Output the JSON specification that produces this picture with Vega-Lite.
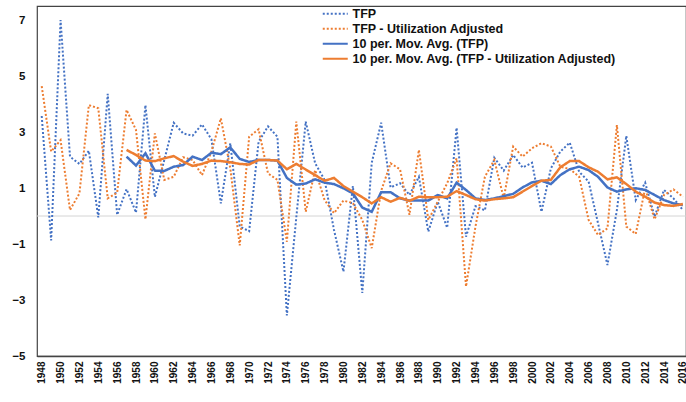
{
  "$schema": "https://vega.github.io/schema/vega-lite/v6.json",
  "width": 649,
  "height": 350,
  "autosize": {"type": "none"},
  "padding": {"left": 37, "top": 6, "right": 0, "bottom": 46},
  "background": "white",
  "config": {
    "view": {"stroke": "#444444", "strokeWidth": 1.2},
    "font": "Liberation Sans",
    "axisX": {
      "labelAngle": -90,
      "labelFontSize": 10,
      "labelFontWeight": "bold",
      "labelColor": "#111111",
      "labelPadding": 5,
      "labelOverlap": false,
      "labelBound": false,
      "ticks": false,
      "grid": false,
      "domainColor": "#444444",
      "domainWidth": 1.5
    },
    "axisY": {
      "labelFontSize": 11.5,
      "labelFontWeight": "bold",
      "labelColor": "#111111",
      "labelPadding": 12,
      "ticks": false,
      "grid": false,
      "domain": false
    },
    "legend": {
      "orient": "none",
      "legendX": 292,
      "legendY": 1.5,
      "padding": 0,
      "direction": "vertical",
      "symbolType": "M-2.5,0H2.5",
      "symbolSize": 100,
      "symbolStrokeWidth": 2,
      "labelFontSize": 12.5,
      "labelFontWeight": "bold",
      "labelColor": "#111111",
      "labelLimit": 400,
      "labelOffset": 11,
      "rowPadding": 2
    }
  },
  "data": {
    "values": [
      {"year": 1948, "tfp": 3.57, "ua": 4.64},
      {"year": 1949, "tfp": -0.87, "ua": 2.3},
      {"year": 1950, "tfp": 7.0, "ua": 2.71},
      {"year": 1951, "tfp": 2.12, "ua": 0.21},
      {"year": 1952, "tfp": 1.86, "ua": 0.81},
      {"year": 1953, "tfp": 2.33, "ua": 3.96},
      {"year": 1954, "tfp": -0.05, "ua": 3.85},
      {"year": 1955, "tfp": 4.36, "ua": 0.63},
      {"year": 1956, "tfp": 0.04, "ua": 0.83},
      {"year": 1957, "tfp": 0.96, "ua": 3.79, "mt": 2.12, "mu": 2.36},
      {"year": 1958, "tfp": 0.12, "ua": 3.07, "mt": 1.8, "mu": 2.18},
      {"year": 1959, "tfp": 3.96, "ua": -0.12, "mt": 2.24, "mu": 1.98},
      {"year": 1960, "tfp": 0.68, "ua": 2.95, "mt": 1.62, "mu": 1.96},
      {"year": 1961, "tfp": 2.0, "ua": 1.29, "mt": 1.61, "mu": 2.06},
      {"year": 1962, "tfp": 3.33, "ua": 1.4, "mt": 1.76, "mu": 2.14},
      {"year": 1963, "tfp": 2.95, "ua": 2.1, "mt": 1.82, "mu": 1.94},
      {"year": 1964, "tfp": 2.87, "ua": 2.0, "mt": 2.12, "mu": 1.79},
      {"year": 1965, "tfp": 3.27, "ua": 1.46, "mt": 2.0, "mu": 1.86},
      {"year": 1966, "tfp": 2.74, "ua": 2.3, "mt": 2.26, "mu": 1.98},
      {"year": 1967, "tfp": 0.45, "ua": 3.49, "mt": 2.21, "mu": 1.96},
      {"year": 1968, "tfp": 2.6, "ua": 1.7, "mt": 2.45, "mu": 1.92},
      {"year": 1969, "tfp": -0.38, "ua": -1.05, "mt": 2.04, "mu": 1.86},
      {"year": 1970, "tfp": -0.54, "ua": 2.83, "mt": 1.93, "mu": 1.84},
      {"year": 1971, "tfp": 2.65, "ua": 3.1, "mt": 2.0, "mu": 2.0},
      {"year": 1972, "tfp": 3.2, "ua": 1.52, "mt": 2.0, "mu": 2.0},
      {"year": 1973, "tfp": 2.83, "ua": 1.29, "mt": 1.98, "mu": 1.98},
      {"year": 1974, "tfp": -3.55, "ua": -0.92, "mt": 1.36, "mu": 1.67},
      {"year": 1975, "tfp": -0.05, "ua": 3.37, "mt": 1.12, "mu": 1.86},
      {"year": 1976, "tfp": 3.37, "ua": 0.15, "mt": 1.16, "mu": 1.66},
      {"year": 1977, "tfp": 1.88, "ua": 1.64, "mt": 1.31, "mu": 1.46},
      {"year": 1978, "tfp": 1.29, "ua": 0.57, "mt": 1.19, "mu": 1.26},
      {"year": 1979, "tfp": -0.5, "ua": 0.1, "mt": 1.14, "mu": 1.36},
      {"year": 1980, "tfp": -1.99, "ua": 0.55, "mt": 0.99, "mu": 1.07},
      {"year": 1981, "tfp": 1.07, "ua": 0.46, "mt": 0.81, "mu": 0.87},
      {"year": 1982, "tfp": -2.75, "ua": -0.14, "mt": 0.3, "mu": 0.67},
      {"year": 1983, "tfp": 1.9, "ua": -1.15, "mt": 0.15, "mu": 0.45},
      {"year": 1984, "tfp": 3.33, "ua": 0.9, "mt": 0.85, "mu": 0.67},
      {"year": 1985, "tfp": 1.02, "ua": 1.88, "mt": 0.85, "mu": 0.51},
      {"year": 1986, "tfp": 1.17, "ua": 1.67, "mt": 0.63, "mu": 0.65},
      {"year": 1987, "tfp": 0.75, "ua": 0.04, "mt": 0.55, "mu": 0.54},
      {"year": 1988, "tfp": 1.4, "ua": 2.36, "mt": 0.55, "mu": 0.69},
      {"year": 1989, "tfp": -0.56, "ua": -0.14, "mt": 0.55, "mu": 0.67},
      {"year": 1990, "tfp": 0.51, "ua": 0.51, "mt": 0.75, "mu": 0.67},
      {"year": 1991, "tfp": -0.42, "ua": 1.17, "mt": 0.63, "mu": 0.69},
      {"year": 1992, "tfp": 3.15, "ua": 2.06, "mt": 1.19, "mu": 0.89},
      {"year": 1993, "tfp": -0.74, "ua": -2.52, "mt": 0.93, "mu": 0.75},
      {"year": 1994, "tfp": 0.35, "ua": -0.38, "mt": 0.63, "mu": 0.6},
      {"year": 1995, "tfp": 0.2, "ua": 1.4, "mt": 0.57, "mu": 0.55},
      {"year": 1996, "tfp": 2.08, "ua": 2.0, "mt": 0.63, "mu": 0.6},
      {"year": 1997, "tfp": 1.62, "ua": 0.63, "mt": 0.71, "mu": 0.63},
      {"year": 1998, "tfp": 2.18, "ua": 2.48, "mt": 0.79, "mu": 0.67},
      {"year": 1999, "tfp": 1.73, "ua": 2.12, "mt": 1.02, "mu": 0.87},
      {"year": 2000, "tfp": 1.9, "ua": 2.42, "mt": 1.2, "mu": 1.07},
      {"year": 2001, "tfp": 0.15, "ua": 2.6, "mt": 1.26, "mu": 1.26},
      {"year": 2002, "tfp": 1.7, "ua": 2.48, "mt": 1.14, "mu": 1.29},
      {"year": 2003, "tfp": 2.3, "ua": 1.76, "mt": 1.46, "mu": 1.74},
      {"year": 2004, "tfp": 2.62, "ua": 1.68, "mt": 1.67, "mu": 1.96},
      {"year": 2005, "tfp": 1.58, "ua": 1.4, "mt": 1.76, "mu": 1.96},
      {"year": 2006, "tfp": 1.23, "ua": -0.14, "mt": 1.64, "mu": 1.74},
      {"year": 2007, "tfp": -0.26, "ua": -0.68, "mt": 1.4, "mu": 1.58},
      {"year": 2008, "tfp": -1.75, "ua": -0.44, "mt": 1.02, "mu": 1.31},
      {"year": 2009, "tfp": 0.21, "ua": 3.25, "mt": 0.87, "mu": 1.38},
      {"year": 2010, "tfp": 2.86, "ua": -0.38, "mt": 0.95, "mu": 1.14},
      {"year": 2011, "tfp": 0.57, "ua": -0.64, "mt": 0.99, "mu": 0.87},
      {"year": 2012, "tfp": 1.19, "ua": 0.99, "mt": 0.93, "mu": 0.69},
      {"year": 2013, "tfp": -0.02, "ua": -0.12, "mt": 0.75, "mu": 0.48},
      {"year": 2014, "tfp": 0.93, "ua": 0.75, "mt": 0.57, "mu": 0.39},
      {"year": 2015, "tfp": 0.63, "ua": 0.95, "mt": 0.45, "mu": 0.36},
      {"year": 2016, "tfp": 0.21, "ua": 0.69, "mt": 0.39, "mu": 0.43}
    ]
  },
  "transform": [{"fold": ["tfp", "ua", "mt", "mu"], "as": ["series", "value"]}],
  "encoding": {
    "x": {
      "field": "year", "type": "quantitative",
      "scale": {"domain": [1947.5, 2016.33], "nice": false, "zero": false},
      "axis": {
        "title": null,
        "values": [1948,1950,1952,1954,1956,1958,1960,1962,1964,1966,1968,1970,1972,1974,1976,1978,1980,1982,1984,1986,1988,1990,1992,1994,1996,1998,2000,2002,2004,2006,2008,2010,2012,2014,2016],
        "format": "d",
        "labelOverlap": false
      }
    },
    "y": {
      "field": "value", "type": "quantitative",
      "scale": {"domain": [-5, 7.5], "nice": false, "zero": false},
      "axis": {"title": null, "values": [-5, -3, -1, 1, 3, 5, 7]}
    }
  },
  "layer": [
    {
      "transform": [{"filter": "datum.year == 1948 && datum.series == 'tfp'"}],
      "mark": {"type": "rule", "color": "#d4d4d4", "strokeWidth": 1},
      "encoding": {
        "x": null,
        "y": {"datum": 0, "type": "quantitative"}
      }
    },
    {
      "transform": [{"filter": "(datum.series == 'tfp' || datum.series == 'ua') && isValid(datum.value)"}],
      "mark": {"type": "line", "strokeWidth": 2},
      "encoding": {
        "color": {
          "field": "series", "type": "nominal",
          "scale": {"domain": ["tfp", "ua", "mt", "mu"], "range": ["#4472C4", "#ED7D31", "#4472C4", "#ED7D31"]},
          "legend": {
            "title": null,
            "labelExpr": "datum.value == 'tfp' ? 'TFP' : datum.value == 'ua' ? 'TFP - Utilization Adjusted' : datum.value == 'mt' ? '10 per. Mov. Avg. (TFP)' : '10 per. Mov. Avg. (TFP - Utilization Adjusted)'"
          }
        },
        "strokeDash": {
          "field": "series", "type": "nominal",
          "scale": {"domain": ["tfp", "ua", "mt", "mu"], "range": [[2, 2], [2, 2], [1, 0], [1, 0]]},
          "legend": {
            "title": null,
            "labelExpr": "datum.value == 'tfp' ? 'TFP' : datum.value == 'ua' ? 'TFP - Utilization Adjusted' : datum.value == 'mt' ? '10 per. Mov. Avg. (TFP)' : '10 per. Mov. Avg. (TFP - Utilization Adjusted)'"
          }
        }
      }
    },
    {
      "transform": [{"filter": "(datum.series == 'mt' || datum.series == 'mu') && isValid(datum.value)"}],
      "mark": {"type": "line", "strokeWidth": 2.5},
      "encoding": {
        "color": {"field": "series", "type": "nominal"},
        "strokeDash": {"field": "series", "type": "nominal"}
      }
    }
  ]
}
